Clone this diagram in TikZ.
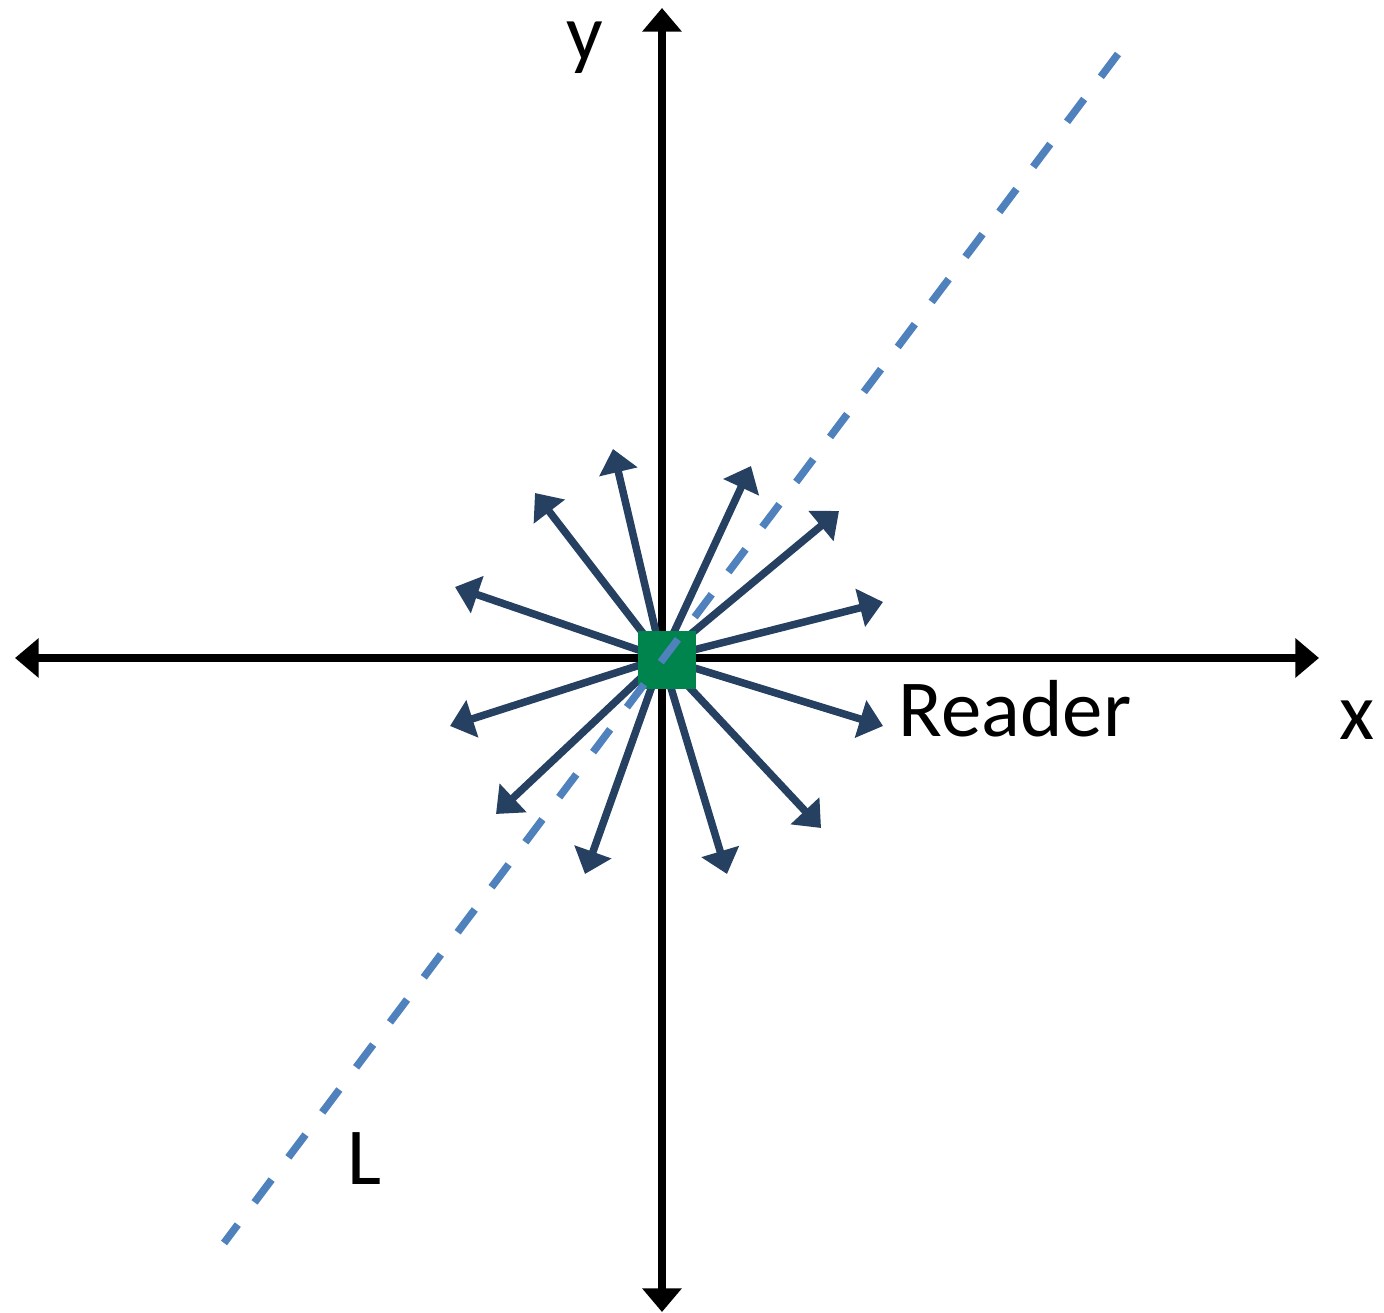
\documentclass[tikz,border=0pt]{standalone}
\usepackage{fontspec}
\setmainfont{Carlito}
\usetikzlibrary{arrows.meta,positioning}
\definecolor{raycol}{RGB}{38,64,97}
\definecolor{srcgreen}{RGB}{0,132,78}
\definecolor{linecol}{RGB}{79,129,189}

\begin{document}
\begin{tikzpicture}[x=0.01cm,y=-0.01cm,font=\fontsize{23}{28}\selectfont,
    >={Triangle[length=2.35mm,width=3.8mm]},
    axis/.style={line width=0.08cm,<->},
    ray/.style={draw=raycol,line width=0.075cm,->},
    lbl/.style={anchor=base,inner sep=0pt}]
  \useasboundingbox (0,0) rectangle (1384,1313);
  \coordinate (o) at (662,658);
  \coordinate (xl) at (15,658);
  \coordinate (xr) at (1319,658);
  \coordinate (yt) at (662,8);
  \coordinate (yb) at (662,1312);
  \draw[axis] (xl) -- (xr);
  \draw[axis] (yb) -- (yt);
  % rays from the reader
  \foreach \tx/\ty [count=\i] in {613/449,535/493,455/587,450/726,496/814,585/874,
                                  727/874,821/828,883/726,883/602,839/511,751/466}{
    \coordinate (r\i) at (\tx,\ty);
    \draw[ray] (o) -- (r\i);
  }
  \node[fill=srcgreen,minimum size=0.57cm,inner sep=0pt] (src) at (667,660) {};
  % line L
  \coordinate (lt) at (1118,54);
  \coordinate (lb) at (224,1243);
  \draw[linecol,line width=0.075cm,dash pattern=on 2.85mm off 2.78mm] (lt) -- (lb);
  \node[lbl] (ylab) at (585,61) {y};
  \node[lbl] (xlab) at (1357,740) {x};
  \node[lbl,anchor=base west] (rlab) at (898,737) {Reader};
  \node[lbl] (llab) at (364,1185) {L};
\end{tikzpicture}
\end{document}
